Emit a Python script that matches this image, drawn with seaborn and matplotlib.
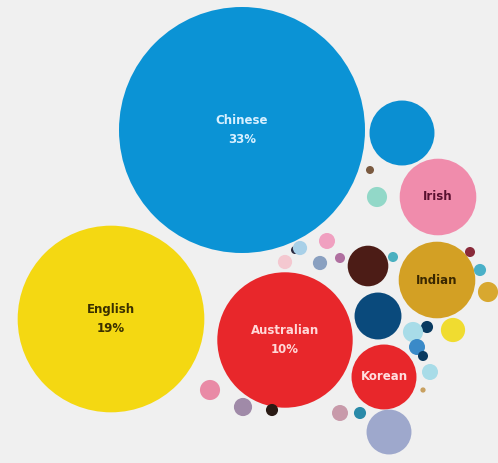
import numpy as np
import pandas as pd
import matplotlib
matplotlib.use("Agg")
import matplotlib.pyplot as plt
import seaborn as sns

# Share of residents by ancestry (%)
groups = ["Chinese", "English", "Australian", "Irish", "Indian", "Korean",
          "Scottish", "Vietnamese", "Lebanese", "Filipino",
          "Greek", "Italian", "Maltese", "German", "Thai", "Nepalese",
          "Dutch", "Japanese", "Polish", "Croatian", "Serbian", "Iranian",
          "Turkish", "Spanish", "Samoan", "Fijian", "Welsh", "Sri Lankan",
          "Malaysian", "Indonesian", "Russian", "Macedonian", "Portuguese",
          "Egyptian"]
share = [33.0, 19.0, 10.0, 3.2, 3.2, 2.3,
         2.3, 1.2, 0.9, 1.1,
         0.22, 0.18, 0.08, 0.14, 0.08, 0.22,
         0.035, 0.14, 0.11, 0.055, 0.035, 0.055,
         0.055, 0.08, 0.22, 0.32, 0.08, 0.22,
         0.14, 0.055, 0.14, 0.015, 0.11, 0.11]
labels = {"Chinese": "Chinese\n33%", "English": "English\n19%",
          "Australian": "Australian\n10%", "Irish": "Irish",
          "Indian": "Indian", "Korean": "Korean"}

# Packed layout: bubble centres in pixel space
pos_x = [242, 111, 285, 438, 437, 384,
         402, 378, 368, 389,
         210, 243, 272, 340, 360, 377,
         370, 327, 320, 340, 295, 393,
         470, 480, 488, 453, 427, 413,
         417, 423, 430, 423, 300, 285]
pos_y = [130, 319, 340, 197, 280, 377,
         133, 316, 266, 432,
         390, 407, 410, 413, 413, 197,
         170, 241, 263, 258, 250, 257,
         252, 270, 292, 330, 327, 332,
         347, 356, 372, 390, 248, 262]

colors = ["#0b93d5", "#f4d812", "#e8272b", "#f08cac", "#d3a024", "#e8272b",
          "#0b8fd2", "#0a4a7c", "#4c1c16", "#9ea8cc",
          "#e98aa6", "#a08aa8", "#2a1a14", "#c89aaa", "#2a8aa8", "#92d8c8",
          "#7a5a40", "#f0a0c0", "#8aa0c0", "#b070a0", "#2a2a40", "#4ab0c0",
          "#8a2a3a", "#4ab0c8", "#d8a830", "#f0dc30", "#0a3a60", "#a8dce8",
          "#3a8ac8", "#0a3a60", "#a8dce8", "#c8a060", "#a8d0e8", "#f4c8d0"]
text_colors = {"Chinese": "#d8f0ff", "English": "#3a3000",
               "Australian": "#ffd8d8", "Irish": "#5a1030",
               "Indian": "#3a2800", "Korean": "#ffe0e0"}

df = pd.DataFrame({"group": groups, "share": share, "x": pos_x, "y": pos_y})

W, H, DPI = 498, 463, 100
sns.set_theme(style="white")
fig = plt.figure(figsize=(W / DPI, H / DPI), dpi=DPI, facecolor="#f0f0f0")
ax = fig.add_axes([0, 0, 1, 1])
ax.set_facecolor("#f0f0f0")

# Marker area proportional to share: Chinese bubble ~123 px radius
r_max_px = 123
d_max_pt = 2 * r_max_px * 72 / DPI
sns.scatterplot(data=df, x="x", y="y", hue="group", size="share",
                palette=dict(zip(groups, colors)),
                sizes=(0, d_max_pt ** 2), size_norm=(0, max(share)),
                linewidth=0, alpha=1, legend=False, ax=ax)

for g, xx, yy in zip(groups, pos_x, pos_y):
    if g in labels:
        ax.text(xx, yy, labels[g], ha="center", va="center",
                fontsize=8.5, fontweight="bold", color=text_colors[g],
                linespacing=1.6)

ax.set_xlim(0, W)
ax.set_ylim(H, 0)
ax.set_aspect("equal")
ax.axis("off")
fig.savefig("out.png", dpi=DPI, facecolor=fig.get_facecolor())
